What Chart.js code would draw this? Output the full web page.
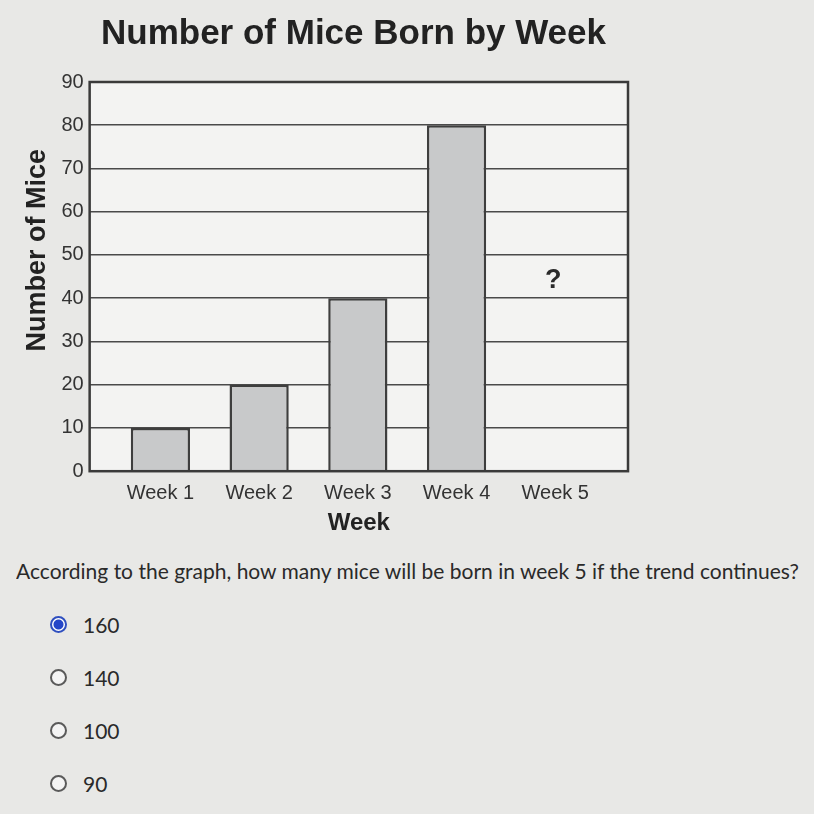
<!DOCTYPE html>
<html>
<head>
<meta charset="utf-8">
<script src="https://cdn.jsdelivr.net/npm/chart.js@4.4.0/dist/chart.umd.min.js"></script>
<style>
  html, body { margin: 0; padding: 0; }
  body { width: 814px; height: 814px; background: #e8e8e6; overflow: hidden; font-family: Lato, "Open Sans", sans-serif; color: #2a2a2a; }
  #wrap { position: absolute; left: 0; top: 0; width: 700px; height: 542px; }
  #question { position: absolute; left: 16px; top: 557px; font-size: 22px; white-space: nowrap; transform-origin: left top; }
  .opt { position: absolute; left: 50px; font-size: 21px; display: flex; align-items: center; }
  .opt .dot { width: 13px; height: 13px; border: 2px solid #5a5a5a; border-radius: 50%; margin-right: 16px; background: #f4f4f4; box-sizing: content-box; }
  .opt.on .dot { border-color: #2f4fbf; background: radial-gradient(circle, #2546c8 0 4.5px, #ffffff 5.5px); }
</style>
</head>
<body>
<div id="wrap"><canvas id="chart"></canvas></div>
<div id="question">According to the graph, how many mice will be born in week 5 if the trend continues?</div>
<div class="opt on" style="top:612px"><span class="dot"></span>160</div>
<div class="opt" style="top:665px"><span class="dot"></span>140</div>
<div class="opt" style="top:718px"><span class="dot"></span>100</div>
<div class="opt" style="top:771px"><span class="dot"></span>90</div>
<script>
// chart data
const weekLabels = ['Week 1', 'Week 2', 'Week 3', 'Week 4', 'Week 5'];
const weekNums = [1, 2, 3, 4, 5];
const miceBorn = [10, 20, 40, 80, null]; // week 5 is the unknown
const yTicks = [0, 10, 20, 30, 40, 50, 60, 70, 80, 90];
const unknownLabel = '?';

// stretch the question line to the width it has in the picture
const q = document.getElementById('question');
q.style.transform = 'scaleX(' + (783 / q.getBoundingClientRect().width) + ')';

const labelFont = "'Liberation Sans', Arial, sans-serif";

// plot background, outer frame and the "?" for the missing week
const framePlugin = {
    id: 'frame',
    beforeDraw(chart) {
        const { ctx, chartArea: a } = chart;
        ctx.save();
        ctx.fillStyle = '#f3f3f2';
        ctx.fillRect(a.left, a.top, a.right - a.left, a.bottom - a.top);
        ctx.restore();
    },
    afterDatasetsDraw(chart) {
        const { ctx, chartArea: a, scales } = chart;
        ctx.save();
        ctx.strokeStyle = '#3a3a3a';
        ctx.lineWidth = 2.5;
        ctx.strokeRect(a.left, a.top, a.right - a.left, a.bottom - a.top);
        ctx.fillStyle = '#2a2a2a';
        ctx.font = "bold 27px " + labelFont;
        ctx.textAlign = 'center';
        ctx.textBaseline = 'middle';
        ctx.fillText(unknownLabel, scales.x.getPixelForValue(weekNums[4]) - 2, scales.y.getPixelForValue(44.2));
        ctx.restore();
    }
};

new Chart(document.getElementById('chart'), {
    type: 'bar',
    data: {
        datasets: [{
            data: weekNums.map((w, i) => ({ x: w, y: miceBorn[i] })),
            backgroundColor: '#c8c9ca',
            borderColor: '#3e3e3e',
            borderWidth: 2.5,
            barPercentage: 0.6,
            categoryPercentage: 1
        }]
    },
    options: {
        responsive: true,
        maintainAspectRatio: false,
        animation: false,
        layout: { padding: { left: 21, right: 14, top: 0, bottom: 2 } },
        plugins: {
            legend: { display: false },
            tooltip: { enabled: false },
            title: {
                display: true,
                text: 'Number of Mice Born by Week',
                color: '#222',
                font: { family: labelFont, size: 35, weight: 'bold' },
                padding: { top: 13, bottom: 27 }
            }
        },
        scales: {
            x: {
                type: 'linear',
                offset: false,
                min: 0.283,
                max: 5.737,
                afterBuildTicks: axis => { axis.ticks = weekNums.map(v => ({ value: v })); },
                ticks: {
                    callback: v => weekLabels[weekNums.indexOf(v)],
                    color: '#333',
                    font: { family: labelFont, size: 20 },
                    padding: 2,
                    maxRotation: 0
                },
                grid: { display: false },
                border: { display: false },
                title: {
                    display: true,
                    text: 'Week',
                    color: '#222',
                    font: { family: labelFont, size: 24, weight: 'bold' },
                    padding: { top: 2, bottom: 2 }
                }
            },
            y: {
                min: 0,
                max: 90,
                afterBuildTicks: axis => { axis.ticks = yTicks.map(v => ({ value: v })); },
                ticks: {
                    color: '#333',
                    font: { family: labelFont, size: 20 },
                    padding: 6
                },
                grid: { color: '#4a4a4a', lineWidth: 1.5, drawTicks: false },
                border: { display: false },
                title: {
                    display: true,
                    // leading spaces lift the rotated title a little, as in the picture
                    text: '       Number of Mice',
                    color: '#222',
                    font: { family: labelFont, size: 27, weight: 'bold' },
                    padding: { top: 0, bottom: 2 }
                }
            },
            // empty axis that only keeps the right margin
            y2: {
                position: 'right',
                min: 0,
                max: 90,
                ticks: { display: false },
                grid: { display: false },
                border: { display: false },
                afterFit: axis => { axis.width = 58; }
            }
        }
    },
    plugins: [framePlugin]
});
</script>
</body>
</html>
